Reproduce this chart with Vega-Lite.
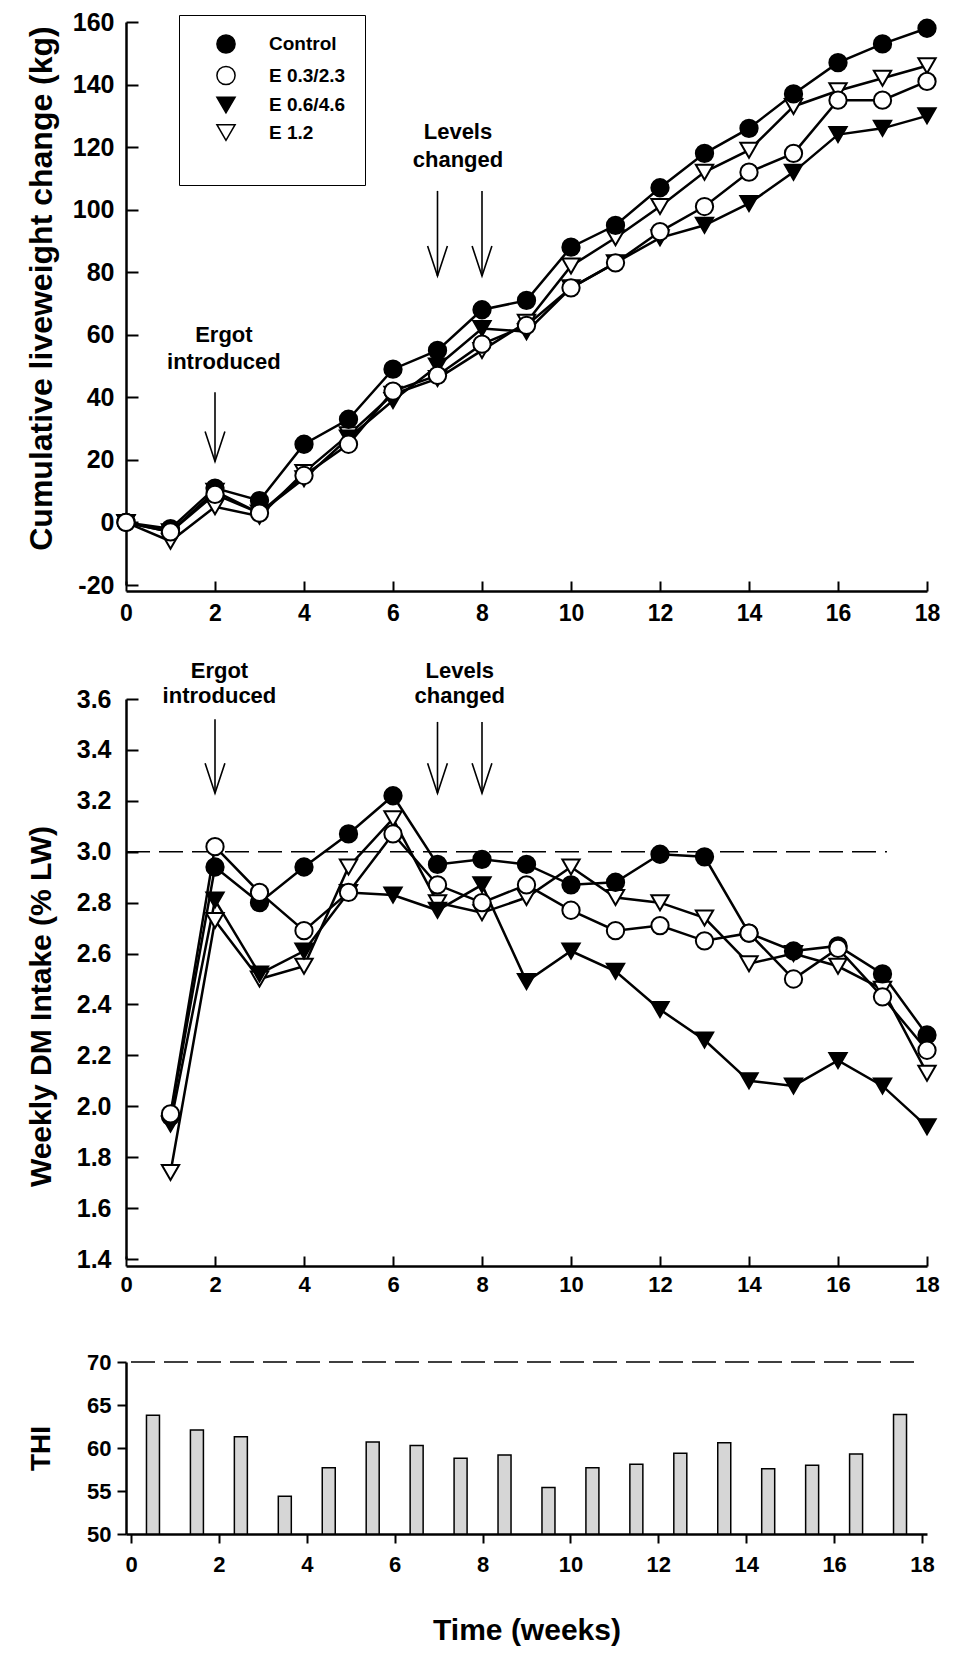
{
  "$schema": "https://vega.github.io/schema/vega-lite/v6.json",
  "padding": {"left": 24, "top": 10, "right": 10, "bottom": 6},
  "background": "white",
  "config": {
    "font": "Liberation Sans",
    "view": {"stroke": null},
    "axis": {
      "domainColor": "black", "domainWidth": 2.5, "tickColor": "black", "tickWidth": 2,
      "labelColor": "black", "labelFont": "Liberation Sans", "labelFontWeight": "bold", "labelFontSize": 22, "labelFlush": false,
      "titleFont": "Liberation Sans", "titleFontWeight": "bold", "titleColor": "black", "titleFontSize": 30, "grid": false
    }
  },
  "datasets": {
    "lw": [
      {"week":0,"series":"E 1.2","value":0},{"week":1,"series":"E 1.2","value":-6},{"week":2,"series":"E 1.2","value":5},{"week":3,"series":"E 1.2","value":2},{"week":4,"series":"E 1.2","value":16},{"week":5,"series":"E 1.2","value":28},{"week":6,"series":"E 1.2","value":41},{"week":7,"series":"E 1.2","value":46},{"week":8,"series":"E 1.2","value":55},{"week":9,"series":"E 1.2","value":64},{"week":10,"series":"E 1.2","value":82},{"week":11,"series":"E 1.2","value":91},{"week":12,"series":"E 1.2","value":101},{"week":13,"series":"E 1.2","value":112},{"week":14,"series":"E 1.2","value":119},{"week":15,"series":"E 1.2","value":133},{"week":16,"series":"E 1.2","value":138},{"week":17,"series":"E 1.2","value":142},{"week":18,"series":"E 1.2","value":146},
      {"week":0,"series":"E 0.6/4.6","value":0},{"week":1,"series":"E 0.6/4.6","value":-3},{"week":2,"series":"E 0.6/4.6","value":10},{"week":3,"series":"E 0.6/4.6","value":3},{"week":4,"series":"E 0.6/4.6","value":14},{"week":5,"series":"E 0.6/4.6","value":27},{"week":6,"series":"E 0.6/4.6","value":39},{"week":7,"series":"E 0.6/4.6","value":50},{"week":8,"series":"E 0.6/4.6","value":62},{"week":9,"series":"E 0.6/4.6","value":61},{"week":10,"series":"E 0.6/4.6","value":75},{"week":11,"series":"E 0.6/4.6","value":83},{"week":12,"series":"E 0.6/4.6","value":91},{"week":13,"series":"E 0.6/4.6","value":95},{"week":14,"series":"E 0.6/4.6","value":102},{"week":15,"series":"E 0.6/4.6","value":112},{"week":16,"series":"E 0.6/4.6","value":124},{"week":17,"series":"E 0.6/4.6","value":126},{"week":18,"series":"E 0.6/4.6","value":130},
      {"week":0,"series":"Control","value":0},{"week":1,"series":"Control","value":-2},{"week":2,"series":"Control","value":11},{"week":3,"series":"Control","value":7},{"week":4,"series":"Control","value":25},{"week":5,"series":"Control","value":33},{"week":6,"series":"Control","value":49},{"week":7,"series":"Control","value":55},{"week":8,"series":"Control","value":68},{"week":9,"series":"Control","value":71},{"week":10,"series":"Control","value":88},{"week":11,"series":"Control","value":95},{"week":12,"series":"Control","value":107},{"week":13,"series":"Control","value":118},{"week":14,"series":"Control","value":126},{"week":15,"series":"Control","value":137},{"week":16,"series":"Control","value":147},{"week":17,"series":"Control","value":153},{"week":18,"series":"Control","value":158},
      {"week":0,"series":"E 0.3/2.3","value":0},{"week":1,"series":"E 0.3/2.3","value":-3},{"week":2,"series":"E 0.3/2.3","value":9},{"week":3,"series":"E 0.3/2.3","value":3},{"week":4,"series":"E 0.3/2.3","value":15},{"week":5,"series":"E 0.3/2.3","value":25},{"week":6,"series":"E 0.3/2.3","value":42},{"week":7,"series":"E 0.3/2.3","value":47},{"week":8,"series":"E 0.3/2.3","value":57},{"week":9,"series":"E 0.3/2.3","value":63},{"week":10,"series":"E 0.3/2.3","value":75},{"week":11,"series":"E 0.3/2.3","value":83},{"week":12,"series":"E 0.3/2.3","value":93},{"week":13,"series":"E 0.3/2.3","value":101},{"week":14,"series":"E 0.3/2.3","value":112},{"week":15,"series":"E 0.3/2.3","value":118},{"week":16,"series":"E 0.3/2.3","value":135},{"week":17,"series":"E 0.3/2.3","value":135},{"week":18,"series":"E 0.3/2.3","value":141}
    ],
    "dmi": [
      {"week":1,"series":"E 1.2","value":1.74},{"week":2,"series":"E 1.2","value":2.73},{"week":3,"series":"E 1.2","value":2.50},{"week":4,"series":"E 1.2","value":2.55},{"week":5,"series":"E 1.2","value":2.94},{"week":6,"series":"E 1.2","value":3.13},{"week":7,"series":"E 1.2","value":2.80},{"week":8,"series":"E 1.2","value":2.76},{"week":9,"series":"E 1.2","value":2.82},{"week":10,"series":"E 1.2","value":2.94},{"week":11,"series":"E 1.2","value":2.82},{"week":12,"series":"E 1.2","value":2.80},{"week":13,"series":"E 1.2","value":2.74},{"week":14,"series":"E 1.2","value":2.56},{"week":15,"series":"E 1.2","value":2.60},{"week":16,"series":"E 1.2","value":2.55},{"week":17,"series":"E 1.2","value":2.46},{"week":18,"series":"E 1.2","value":2.13},
      {"week":1,"series":"E 0.6/4.6","value":1.93},{"week":2,"series":"E 0.6/4.6","value":2.81},{"week":3,"series":"E 0.6/4.6","value":2.52},{"week":4,"series":"E 0.6/4.6","value":2.61},{"week":5,"series":"E 0.6/4.6","value":2.84},{"week":6,"series":"E 0.6/4.6","value":2.83},{"week":7,"series":"E 0.6/4.6","value":2.77},{"week":8,"series":"E 0.6/4.6","value":2.87},{"week":9,"series":"E 0.6/4.6","value":2.49},{"week":10,"series":"E 0.6/4.6","value":2.61},{"week":11,"series":"E 0.6/4.6","value":2.53},{"week":12,"series":"E 0.6/4.6","value":2.38},{"week":13,"series":"E 0.6/4.6","value":2.26},{"week":14,"series":"E 0.6/4.6","value":2.10},{"week":15,"series":"E 0.6/4.6","value":2.08},{"week":16,"series":"E 0.6/4.6","value":2.18},{"week":17,"series":"E 0.6/4.6","value":2.08},{"week":18,"series":"E 0.6/4.6","value":1.92},
      {"week":1,"series":"Control","value":1.96},{"week":2,"series":"Control","value":2.94},{"week":3,"series":"Control","value":2.80},{"week":4,"series":"Control","value":2.94},{"week":5,"series":"Control","value":3.07},{"week":6,"series":"Control","value":3.22},{"week":7,"series":"Control","value":2.95},{"week":8,"series":"Control","value":2.97},{"week":9,"series":"Control","value":2.95},{"week":10,"series":"Control","value":2.87},{"week":11,"series":"Control","value":2.88},{"week":12,"series":"Control","value":2.99},{"week":13,"series":"Control","value":2.98},{"week":14,"series":"Control","value":2.68},{"week":15,"series":"Control","value":2.61},{"week":16,"series":"Control","value":2.63},{"week":17,"series":"Control","value":2.52},{"week":18,"series":"Control","value":2.28},
      {"week":1,"series":"E 0.3/2.3","value":1.97},{"week":2,"series":"E 0.3/2.3","value":3.02},{"week":3,"series":"E 0.3/2.3","value":2.84},{"week":4,"series":"E 0.3/2.3","value":2.69},{"week":5,"series":"E 0.3/2.3","value":2.84},{"week":6,"series":"E 0.3/2.3","value":3.07},{"week":7,"series":"E 0.3/2.3","value":2.87},{"week":8,"series":"E 0.3/2.3","value":2.80},{"week":9,"series":"E 0.3/2.3","value":2.87},{"week":10,"series":"E 0.3/2.3","value":2.77},{"week":11,"series":"E 0.3/2.3","value":2.69},{"week":12,"series":"E 0.3/2.3","value":2.71},{"week":13,"series":"E 0.3/2.3","value":2.65},{"week":14,"series":"E 0.3/2.3","value":2.68},{"week":15,"series":"E 0.3/2.3","value":2.50},{"week":16,"series":"E 0.3/2.3","value":2.62},{"week":17,"series":"E 0.3/2.3","value":2.43},{"week":18,"series":"E 0.3/2.3","value":2.22}
    ],
    "thi": [
      {"week":0.5,"thi":63.8},{"week":1.5,"thi":62.1},{"week":2.5,"thi":61.3},{"week":3.5,"thi":54.4},{"week":4.5,"thi":57.7},{"week":5.5,"thi":60.7},{"week":6.5,"thi":60.3},{"week":7.5,"thi":58.8},{"week":8.5,"thi":59.2},{"week":9.5,"thi":55.4},{"week":10.5,"thi":57.7},{"week":11.5,"thi":58.1},{"week":12.5,"thi":59.4},{"week":13.5,"thi":60.6},{"week":14.5,"thi":57.6},{"week":15.5,"thi":58.0},{"week":16.5,"thi":59.3},{"week":17.5,"thi":63.9}
    ],
    "topText": [
      {"week":2.2,"value":60,"text":"Ergot"},{"week":2.2,"value":51.3,"text":"introduced"},
      {"week":7.46,"value":124.7,"text":"Levels"},{"week":7.46,"value":116,"text":"changed"}
    ],
    "topArrows": [
      {"week":2,"y1":41.6,"y2":19.5},{"week":7,"y1":106,"y2":78.8},{"week":8,"y1":106,"y2":78.8}
    ],
    "midText": [
      {"week":2.1,"value":3.71,"text":"Ergot"},{"week":2.1,"value":3.61,"text":"introduced"},
      {"week":7.5,"value":3.71,"text":"Levels"},{"week":7.5,"value":3.61,"text":"changed"}
    ],
    "midArrows": [
      {"week":2,"y1":3.52,"y2":3.23},{"week":7,"y1":3.51,"y2":3.23},{"week":8,"y1":3.51,"y2":3.23}
    ],
    "midRef": [{"x":0,"x2":17.1,"y":3.0}],
    "thiRef": [{"x":0,"x2":18,"y":70}]
  },
  "vconcat": [
    {
      "width": 801, "height": 563,
      "layer": [
        {
          "data": {"name": "lw"},
          "mark": {"type": "line", "color": "black", "strokeWidth": 2.5},
          "encoding": {
            "x": {"field": "week", "type": "quantitative", "scale": {"domain": [0, 18], "nice": false},
                  "axis": {"values": [0,2,4,6,8,10,12,14,16,18], "title": null, "offset": 6, "tickSize": -10, "labelPadding": 21, "labelFontSize": 23}},
            "y": {"field": "value", "type": "quantitative", "scale": {"domain": [-20, 160], "nice": false, "zero": false},
                  "axis": {"values": [-20,-10,0,10,20,30,40,50,60,70,80,90,100,110,120,130,140,150,160],
                           "labelExpr": "datum.value % 20 === 0 ? toString(datum.value) : ''",
                           "tickSize": -12, "labelPadding": 24, "labelFontSize": 25,
                           "title": "Cumulative liveweight change (kg)", "titleFontSize": 32, "titleX": -85, "titleY": 266, "titleBaseline": "middle"}},
            "detail": {"field": "series"}
          }
        },
        {
          "data": {"name": "lw"},
          "mark": {"type": "point", "filled": true, "stroke": "black", "strokeWidth": 2, "size": 300, "opacity": 1},
          "encoding": {
            "x": {"field": "week", "type": "quantitative"},
            "y": {"field": "value", "type": "quantitative", "scale": {"domain": [-20, 160], "nice": false, "zero": false}},
            "shape": {"field": "series", "type": "nominal",
                      "scale": {"domain": ["Control","E 0.3/2.3","E 0.6/4.6","E 1.2"], "range": ["circle","circle","triangle-down","triangle-down"]},
                      "legend": {"title": "\u00a0", "titleOrient": "bottom", "titleFontSize": 12, "titlePadding": 12, "orient": "none", "legendX": 53, "legendY": -7, "strokeColor": "black", "padding": 19, "symbolSize": 330, "symbolOffset": 18, "labelOffset": 33, "rowPadding": 5.5, "labelFontSize": 19, "labelFont": "Liberation Sans", "labelFontWeight": "bold", "labelColor": "black",
                                 "encode": {"symbols": {"update": {"stroke": {"value": "black"}, "strokeWidth": {"value": 2}}}}}},
            "fill": {"field": "series", "type": "nominal",
                     "scale": {"domain": ["Control","E 0.3/2.3","E 0.6/4.6","E 1.2"], "range": ["black","white","black","white"]},
                     "legend": {"title": "\u00a0", "titleOrient": "bottom", "titleFontSize": 12, "titlePadding": 12, "orient": "none", "legendX": 53, "legendY": -7, "strokeColor": "black", "padding": 19, "symbolSize": 330, "symbolOffset": 18, "labelOffset": 33, "rowPadding": 5.5, "labelFontSize": 19, "labelFont": "Liberation Sans", "labelFontWeight": "bold", "labelColor": "black",
                                "encode": {"symbols": {"update": {"stroke": {"value": "black"}, "strokeWidth": {"value": 2}}}}}}
          }
        },
        {
          "data": {"name": "topArrows"},
          "mark": {"type": "rule", "color": "black", "strokeWidth": 1.6},
          "encoding": {"x": {"field": "week", "type": "quantitative"}, "y": {"field": "y1", "type": "quantitative", "scale": {"domain": [-20, 160], "nice": false, "zero": false}}, "y2": {"field": "y2"}}
        },
        {
          "data": {"name": "topArrows"},
          "mark": {"type": "point", "shape": "M -0.33 -1 L 0 0 L 0.33 -1", "filled": false, "stroke": "black", "strokeWidth": 1.6, "size": 3600, "opacity": 1},
          "encoding": {"x": {"field": "week", "type": "quantitative"}, "y": {"field": "y2", "type": "quantitative", "scale": {"domain": [-20, 160], "nice": false, "zero": false}}}
        },
        {
          "data": {"name": "topText"},
          "mark": {"type": "text", "font": "Liberation Sans", "fontWeight": "bold", "fontSize": 22, "color": "black", "align": "center", "baseline": "middle"},
          "encoding": {"x": {"field": "week", "type": "quantitative"}, "y": {"field": "value", "type": "quantitative", "scale": {"domain": [-20, 160], "nice": false, "zero": false}}, "text": {"field": "text"}}
        }
      ]
    },
    {
      "vconcat": [
        {
          "width": 801, "height": 560,
          "layer": [
            {
              "data": {"name": "midRef"},
              "mark": {"type": "rule", "color": "black", "strokeWidth": 1.5, "strokeDash": [24, 9]},
              "encoding": {"x": {"field": "x", "type": "quantitative", "scale": {"domain": [0, 18], "nice": false}}, "x2": {"field": "x2"}, "y": {"field": "y", "type": "quantitative", "scale": {"domain": [1.4, 3.6], "nice": false, "zero": false}}}
            },
            {
              "data": {"name": "dmi"},
              "mark": {"type": "line", "color": "black", "strokeWidth": 2.5},
              "encoding": {
                "x": {"field": "week", "type": "quantitative", "scale": {"domain": [0, 18], "nice": false},
                      "axis": {"values": [0,2,4,6,8,10,12,14,16,18], "title": null, "offset": 7, "tickSize": -10, "labelPadding": 18}},
                "y": {"field": "value", "type": "quantitative", "scale": {"domain": [1.4, 3.6], "nice": false, "zero": false},
                      "axis": {"values": [1.4,1.6,1.8,2.0,2.2,2.4,2.6,2.8,3.0,3.2,3.4,3.6], "format": ".1f",
                               "tickSize": -12, "labelPadding": 27, "labelFontSize": 25,
                               "title": "Weekly DM Intake (% LW)", "titleFontSize": 30, "titleX": -85, "titleY": 307, "titleBaseline": "middle"}},
                "detail": {"field": "series"}
              }
            },
            {
              "data": {"name": "dmi"},
              "mark": {"type": "point", "filled": true, "stroke": "black", "strokeWidth": 2, "size": 300, "opacity": 1},
              "encoding": {
                "x": {"field": "week", "type": "quantitative"},
                "y": {"field": "value", "type": "quantitative", "scale": {"domain": [1.4, 3.6], "nice": false, "zero": false}},
                "shape": {"field": "series", "type": "nominal",
                          "scale": {"domain": ["Control","E 0.3/2.3","E 0.6/4.6","E 1.2"], "range": ["circle","circle","triangle-down","triangle-down"]},
                          "legend": null},
                "fill": {"field": "series", "type": "nominal",
                         "scale": {"domain": ["Control","E 0.3/2.3","E 0.6/4.6","E 1.2"], "range": ["black","white","black","white"]},
                         "legend": null}
              }
            },
            {
              "data": {"name": "midArrows"},
              "mark": {"type": "rule", "color": "black", "strokeWidth": 1.6},
              "encoding": {"x": {"field": "week", "type": "quantitative"}, "y": {"field": "y1", "type": "quantitative", "scale": {"domain": [1.4, 3.6], "nice": false, "zero": false}}, "y2": {"field": "y2"}}
            },
            {
              "data": {"name": "midArrows"},
              "mark": {"type": "point", "shape": "M -0.33 -1 L 0 0 L 0.33 -1", "filled": false, "stroke": "black", "strokeWidth": 1.6, "size": 3600, "opacity": 1},
              "encoding": {"x": {"field": "week", "type": "quantitative"}, "y": {"field": "y2", "type": "quantitative", "scale": {"domain": [1.4, 3.6], "nice": false, "zero": false}}}
            },
            {
              "data": {"name": "midText"},
              "mark": {"type": "text", "font": "Liberation Sans", "fontWeight": "bold", "fontSize": 22, "color": "black", "align": "center", "baseline": "middle"},
              "encoding": {"x": {"field": "week", "type": "quantitative"}, "y": {"field": "value", "type": "quantitative", "scale": {"domain": [1.4, 3.6], "nice": false, "zero": false}}, "text": {"field": "text"}}
            }
          ]
        },
        {
          "width": 801, "height": 172,
          "layer": [
            {
              "data": {"name": "thiRef"},
              "mark": {"type": "rule", "color": "black", "strokeWidth": 1.5, "strokeDash": [24, 9]},
              "encoding": {"x": {"field": "x", "type": "quantitative", "scale": {"domain": [0, 18], "nice": false}}, "x2": {"field": "x2"}, "y": {"field": "y", "type": "quantitative", "scale": {"domain": [50, 70], "nice": false, "zero": false}}}
            },
            {
              "data": {"name": "thi"},
              "mark": {"type": "bar", "fill": "#d6d6d6", "stroke": "black", "strokeWidth": 1.5, "width": 13},
              "encoding": {
                "x": {"field": "week", "type": "quantitative", "scale": {"domain": [0, 18], "nice": false},
                      "axis": {"values": [0,2,4,6,8,10,12,14,16,18], "title": "Time (weeks)", "tickSize": 9, "labelPadding": 11, "titlePadding": 40}},
                "y": {"field": "thi", "type": "quantitative", "scale": {"domain": [50, 70], "nice": false, "zero": false},
                      "axis": {"values": [50,55,60,65,70], "tickSize": 9, "labelPadding": 6, "title": "THI", "titleFontSize": 28, "titleX": -85, "titleBaseline": "middle"}},
                "y2": {"datum": 50}
              }
            }
          ]
        }
      ],
      "spacing": 103,
      "bounds": "flush"
    }
  ],
  "spacing": 114,
  "bounds": "flush"
}
